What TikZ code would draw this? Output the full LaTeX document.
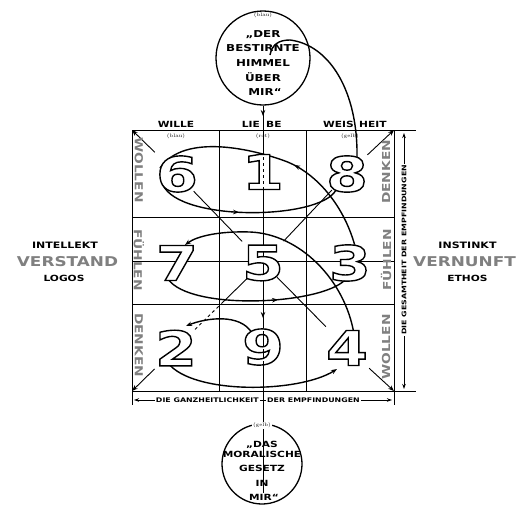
\documentclass[tikz,border=0pt]{standalone}
\usepackage{fontspec}
\usetikzlibrary{arrows.meta,calc,decorations.markings}
\newfontfamily\extf{DejaVu Sans Bold}[FakeStretch=1.25]
\newcommand{\outl}[1]{\special{pdf:literal direct 1 Tr 1.4 w}#1\special{pdf:literal direct 0 Tr}}
\begin{document}
\begin{tikzpicture}[x=1pt,y=-1pt,
  gridl/.style={line width=0.9pt},
  crv/.style={line width=1.4pt},
  arrw/.style={-{Stealth[length=6pt,width=4.5pt]}},
  tips/.style={{Stealth[length=5pt,width=3.5pt]}-{Stealth[length=5pt,width=3.5pt]}},
  midarr/.style={postaction={decorate},decoration={markings,mark=at position #1 with {\arrow{Stealth[length=6pt,width=4.5pt]}}}},
  lbl/.style={font=\extf\fontsize{8.5}{9}\selectfont,inner sep=0pt},
  note/.style={font=\fontsize{5}{6}\selectfont,inner sep=0pt},
  sidelab/.style={font=\extf\fontsize{11}{12}\selectfont,inner sep=0pt,text=black!50},
  dig/.style={font=\extf\fontsize{48}{48}\selectfont,inner sep=0pt},
  ctext/.style={font=\extf\fontsize{9.5}{10}\selectfont,inner sep=0pt,anchor=base},
  btext/.style={font=\extf\fontsize{8.5}{9}\selectfont,inner sep=0pt,anchor=base},
  biglab/.style={font=\extf\fontsize{13.5}{14}\selectfont,inner sep=0pt,anchor=base,text=black!50},
  axlab/.style={font=\extf\fontsize{6.3}{7}\selectfont,inner sep=1pt,fill=white},
  ring/.style={draw,circle,line width=1.3pt,inner sep=0pt}
]
\useasboundingbox[fill=white] (0,0) rectangle (517,506);
% digit centres
\coordinate (c6) at (177,174);
\coordinate (c1) at (263,172);
\coordinate (c8) at (347,174);
\coordinate (c7) at (177,263);
\coordinate (c5) at (263,263);
\coordinate (c3) at (350,263);
\coordinate (c2) at (176,348);
\coordinate (c9) at (263,347);
\coordinate (c4) at (347,348);
% grid
\coordinate (TL) at (132,130);
\coordinate (TR) at (394,130);
\coordinate (BL) at (132,391);
\coordinate (BR) at (394,391);
\coordinate (ML) at (132,261);
\coordinate (MR) at (394,261);
\draw[gridl] (TL) rectangle (BR);
\draw[gridl] (219.3,130)--(219.3,391) (306.7,130)--(306.7,391)
             (132,217)--(394,217) (132,304)--(394,304);
\draw[gridl] (TR)--(416,130) (BR)--(416,391) (BL)--(132,405) (BR)--(394,405);
\draw[gridl] (ML)--(MR);
% diagonals
\draw[gridl,arrw,shorten <=31pt] (c6)--(TL);
\draw[gridl,arrw,shorten <=28pt] (c8)--(TR);
\draw[gridl,arrw,shorten <=30pt] (c2)--(BL);
\draw[gridl,arrw,shorten <=30pt] (c4)--(BR);
\draw[gridl,shorten <=24pt,shorten >=30pt] (c6)--(c5);
\draw[gridl,shorten <=22pt,shorten >=30pt] (c8)--(c5);
\draw[gridl] ($(c5)!20pt!(c2)$)--($(c5)!58pt!(c2)$);
\draw[gridl,dashed] ($(c5)!62pt!(c2)$)--($(c5)!95pt!(c2)$);
\draw[gridl,shorten <=20pt,shorten >=30pt] (c5)--(c4);
% column headers
\node[lbl] (wille) at (176,124.5) {WILLE};
\node[lbl,anchor=east] (lie) at (260,124.5) {LIE};
\node[lbl,anchor=west] (be) at (266,124.5) {BE};
\node[lbl,anchor=east] (weis) at (354,124.5) {WEIS};
\node[lbl,anchor=west] (heit) at (359,124.5) {HEIT};
\node[note] (nblau) at (176,136) {(blau)};
\node[note] (nrot) at (263,136) {(rot)};
\node[note] (ngelb) at (350,136) {(gelb)};
% side labels
\node[sidelab,rotate=-90] (lw) at (139,170) {WOLLEN};
\node[sidelab,rotate=-90] (lf) at (139,260) {FÜHLEN};
\node[sidelab,rotate=-90] (ld) at (139,345) {DENKEN};
\node[sidelab,rotate=90] (rd) at (386,172) {DENKEN};
\node[sidelab,rotate=90] (rf) at (386,260) {FÜHLEN};
\node[sidelab,rotate=90] (rw) at (386,347) {WOLLEN};
% outer axes
\coordinate (ra1) at (404,133);
\coordinate (ra2) at (404,389);
\coordinate (ba1) at (134,400);
\coordinate (ba2) at (392,400);
\draw[gridl,tips] (ra1)--(ra2);
\node[axlab,rotate=90] (ges) at (404,250) {DIE GESAMTHEIT DER EMPFINDUNGEN};
\draw[gridl,tips] (ba1)--(ba2);
\node[axlab,anchor=east] (g1) at (260,400) {DIE GANZHEITLICHKEIT};
\node[axlab,anchor=west] (g2) at (266,400) {DER EMPFINDUNGEN};
% left / right words
\node[lbl,anchor=base,font=\extf\fontsize{8.8}{9}\selectfont] (intel) at (65,248) {INTELLEKT};
\node[biglab] (verst) at (67.5,266.5) {VERSTAND};
\node[lbl,anchor=base] (logos) at (64,281.5) {LOGOS};
\node[lbl,anchor=base,font=\extf\fontsize{8.8}{9}\selectfont] (inst) at (467.5,248) {INSTINKT};
\node[biglab,anchor=base east] (vern) at (516,266.5) {VERNUNFT};
\node[lbl,anchor=base] (ethos) at (467.5,281.5) {ETHOS};
% circles
\node[ring,minimum size=94pt] (topc) at (263,58) {};
\node[ring,minimum size=80pt] (botc) at (262,464) {};
\coordinate (lend) at (263,493);
\draw[gridl,arrw] (topc.south) -- (263,116);
\draw[gridl] (263,114) -- (lend);
\draw[gridl,arrw] (263,300) -- (263,318);
\node[note] (tblau) at (263,15) {(blau)};
\node[ctext] (t1) at (263,37) {„DER};
\node[ctext] (t2) at (263,51) {BESTIRNTE};
\node[ctext] (t3) at (263,66) {HIMMEL};
\node[ctext] (t4) at (263,81) {ÜBER};
\node[ctext] (t5) at (265,95) {MIR“};
\node[note,fill=white,inner sep=1pt] (bgelb) at (262,425) {(gelb)};
\node[btext] (b1) at (262,447) {„DAS};
\node[btext] (b2) at (262,457) {MORALISCHE};
\node[btext] (b3) at (262,471) {GESETZ};
\node[btext] (b4) at (262,486) {IN};
\node[btext] (b5) at (264,500) {MIR“};
% curves
\coordinate (bk) at (285,161);
\coordinate (ck) at (250,232);
\coordinate (gk) at (290,40);
\coordinate (gend) at (270,55);
\draw[crv,midarr=0.45] ($(c6)+(-14,11)$) .. controls +(17,37) and +(-16,30) .. ($(c8)+(-11,16)$);
\draw[crv,midarr=0.43] ($(c3)+(6,-13)$) .. controls +(-11,-45) and +(30,11) .. (bk)
      .. controls +(-30,-11) and +(25,-36) .. ($(c6)+(-17,-6)$);
\draw[crv,arrw] ($(c4)+(7,-14)$) .. controls +(-9,-54) and +(50,2) .. (ck)
      .. controls +(-30,-1) and +(12,-9) .. ($(c7)+(8,-18)$);
\draw[crv,midarr=0.62] ($(c7)+(-9,16)$) .. controls +(22,32) and +(-25,25) .. ($(c3)+(-5,17)$);
\draw[crv,arrw] ($(c9)+(-11,-14)$) .. controls +(-12,-20) and +(20,-8) .. ($(c2)+(10,-22)$);
\draw[crv,arrw] ($(c2)+(-8,15)$) .. controls +(25,32) and +(-38,24) .. ($(c4)+(-10,21)$);
\draw[crv] ($(c8)+(10,-17)$) .. controls +(1,-65) and +(40,5) .. (gk)
      .. controls +(-12,0) and +(2,-10) .. (gend);
% digits
\foreach \d in {6,1,8,7,5,3,2,9,4}{
  \node[dig,text=white] (w\d) at (c\d) {\d};
  \node[dig] (n\d) at (c\d) {\outl{\d}};
}
\draw[gridl,dashed] (263,157)--(263,190);
\draw[gridl,dashed] (263,331)--(263,364);
\end{tikzpicture}
\end{document}
